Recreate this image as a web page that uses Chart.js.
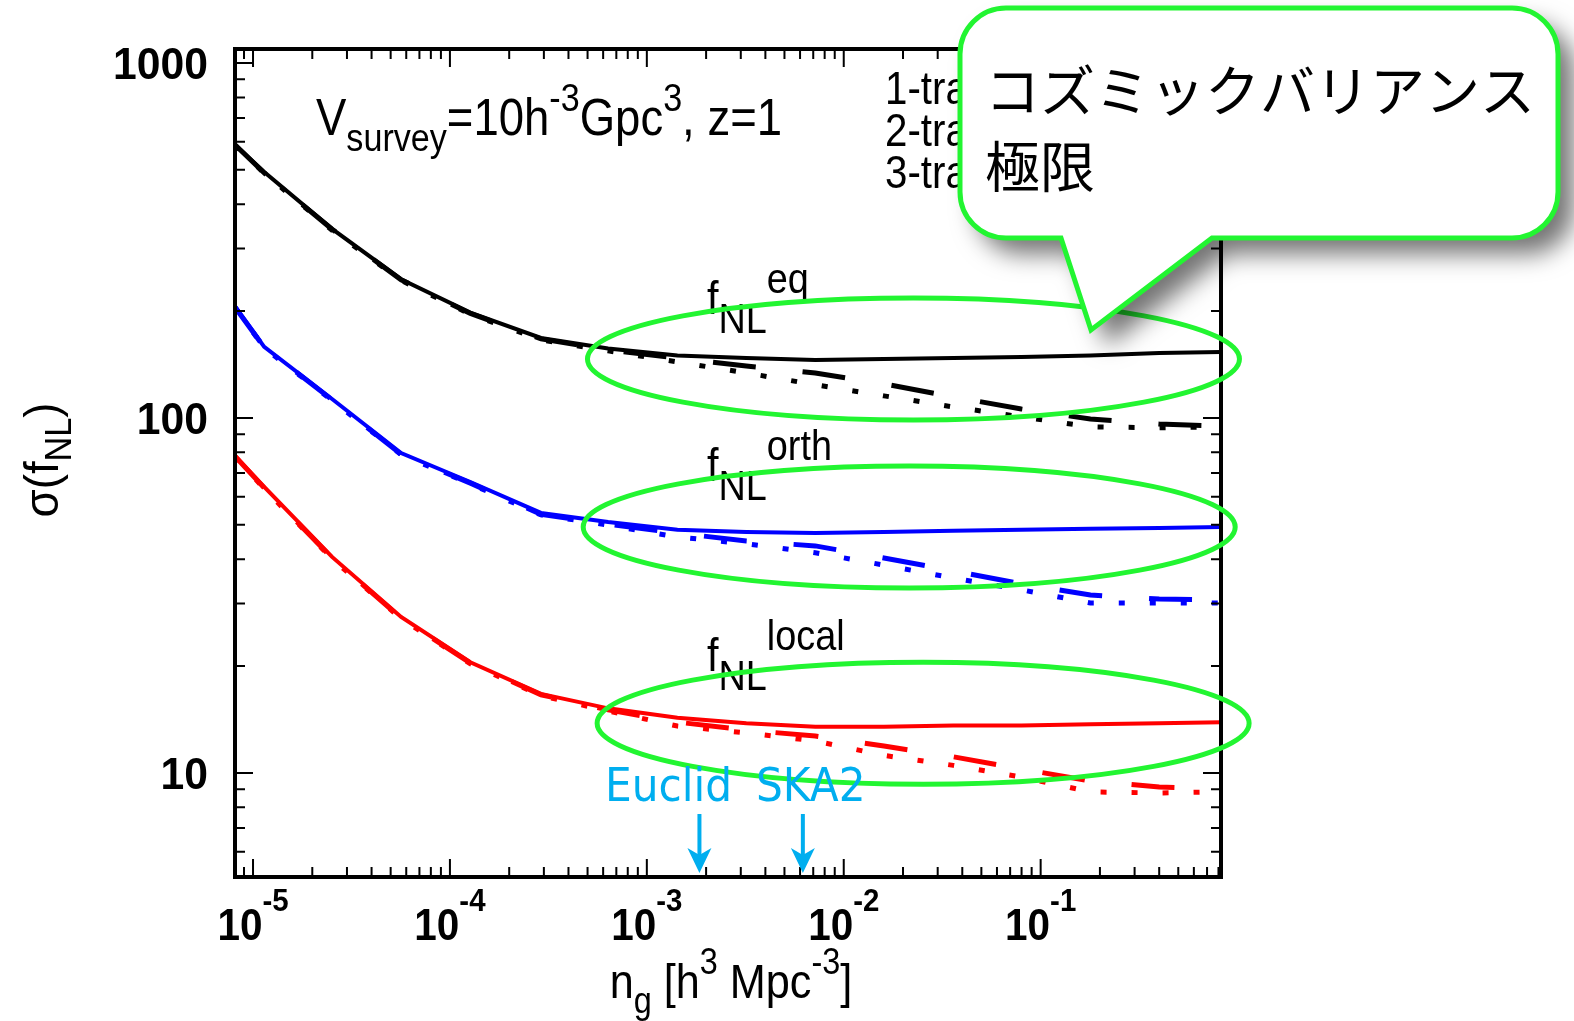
<!DOCTYPE html>
<html>
<head>
<meta charset="utf-8">
<script src="https://cdn.jsdelivr.net/npm/chart.js@4.4.1/dist/chart.umd.min.js"></script>
<style>
  html, body { margin: 0; padding: 0; background: #fff; }
  #wrap { width: 1574px; height: 1021px; }
</style>
</head>
<body>
<div id="wrap"><canvas id="fnlChart" width="1574" height="1021"></canvas></div>
<script>
// galaxy number density grid, n_g [h^3 Mpc^-3]
var ngGrid = [8.1e-6, 1.14e-5, 2.52e-5, 5.65e-5, 1.27e-4, 2.9e-4, 6.36e-4, 1.43e-3,
              3.2e-3, 7.17e-3, 1.6e-2, 3.6e-2, 7.98e-2, 0.179, 0.40, 0.824];

// sigma(f_NL^eq) for 1, 2, 3 tracers
var eq1 = [588, 493, 341, 246, 198, 168, 157, 150, 147.5, 145.6, 146.6, 147.5, 148.6, 150, 152.5, 153.5];
var eq2 = [588, 490, 340, 245, 197, 167, 155.4, 147.5, 140, 133.9, 124.7, 114.6, 106, 99.3, 96.1, 94.9];
var eq3 = [586, 489, 338, 244, 196, 166, 154.5, 143.8, 133.9, 124, 115.4, 107.4, 100.7, 94.4, 93.8, 94.4];

// sigma(f_NL^orth)
var orth1 = [206, 158.5, 113.1, 79.6, 66.0, 54.0, 50.9, 48.4, 47.7, 47.4, 47.7, 48.1, 48.4, 48.7, 49.0, 49.3];
var orth2 = [205, 158, 112.5, 79, 65.5, 53.5, 50.2, 47.4, 45.0, 43.6, 40.3, 37.1, 34.1, 31.7, 30.9, 30.7];
var orth3 = [205, 157.5, 112, 78.8, 65.2, 53.3, 49.9, 46.2, 44.2, 41.7, 38.5, 35.4, 32.8, 30.1, 30.1, 30.1];

// sigma(f_NL^local)
var local1 = [78.2, 63.9, 40.6, 27.5, 20.5, 16.7, 15.2, 14.3, 13.8, 13.5, 13.5, 13.6, 13.6, 13.7, 13.8, 13.9];
var local2 = [78, 63.5, 40.3, 27.3, 20.4, 16.6, 15.05, 13.9, 13.2, 12.7, 11.9, 11.1, 10.26, 9.49, 9.13, 9.02];
var local3 = [77.8, 63.2, 40.1, 27.2, 20.3, 16.5, 14.95, 13.55, 12.96, 12.3, 11.2, 10.5, 9.74, 8.84, 8.78, 8.84];

var xTickPowers = [-5, -4, -3, -2, -1];
var yTickValues = [10, 100, 1000];
var legendLabels = ['1-tracer', '2-tracer', '3-tracer'];

// surveys marked with arrows
var surveyNames = ['Euclid', 'SKA2'];
var surveyNg = [1.85e-3, 6.2e-3];

// cosmic variance limit ovals (centre n_g, centre sigma)
var ovalNg = [0.0226, 0.0215, 0.0253];
var ovalSigma = [146.6, 49.3, 13.8];

var SANS = "'Liberation Sans', Arial, sans-serif";
var GREEN = '#22f531';

function line(vals, color, kind) {
    var ds = {
        data: ngGrid.map(function (n, i) { return { x: n, y: vals[i] }; }),
        showLine: true,
        borderColor: color,
        borderWidth: 4,
        pointRadius: 0,
        fill: false,
        tension: 0,
        borderCapStyle: 'butt'
    };
    if (kind === 2) { ds.borderDash = [43, 47]; ds.borderWidth = 5; }
    if (kind === 3) { ds.borderDash = [6, 25]; ds.borderWidth = 5; }
    return ds;
}

// draws text made of pieces (sub/superscripts), k squeezes it horizontally
function rich(ctx, parts, x, y, align, k) {
    k = k || 1;
    var total = 0;
    parts.forEach(function (p) {
        ctx.font = (p.w || '') + ' ' + p.s + 'px ' + (p.f || SANS);
        p.width = ctx.measureText(p.t).width * k;
        total += p.width;
    });
    var cx = x;
    if (align === 'center') cx = x - total / 2;
    if (align === 'right') cx = x - total;
    ctx.textAlign = 'left';
    ctx.textBaseline = 'alphabetic';
    parts.forEach(function (p) {
        ctx.font = (p.w || '') + ' ' + p.s + 'px ' + (p.f || SANS);
        ctx.save();
        ctx.translate(cx, y + (p.dy || 0));
        ctx.scale(k, 1);
        ctx.fillText(p.t, 0, 0);
        ctx.restore();
        cx += p.width;
    });
}

var decor = {
    id: 'decor',
    afterDatasetsDraw: function (chart) {
        var ctx = chart.ctx;
        var a = chart.chartArea;
        var xs = chart.scales.x, ys = chart.scales.y;
        ctx.save();
        ctx.fillStyle = '#000';
        ctx.strokeStyle = '#000';

        // ticks on all four sides
        ctx.lineWidth = 2;
        ctx.beginPath();
        for (var p = -6; p <= 0; p++) {
            for (var k = 1; k <= 9; k++) {
                var v = k * Math.pow(10, p);
                if (v < xs.min || v > xs.max) continue;
                var px = xs.getPixelForValue(v);
                var len = k === 1 ? 18 : 10;
                ctx.moveTo(px, a.bottom); ctx.lineTo(px, a.bottom - len);
                ctx.moveTo(px, a.top); ctx.lineTo(px, a.top + len);
            }
        }
        for (var q = 0; q <= 3; q++) {
            for (var m = 1; m <= 9; m++) {
                var w = m * Math.pow(10, q);
                if (w < ys.min || w > ys.max) continue;
                var py = ys.getPixelForValue(w);
                var l2 = m === 1 ? 18 : 10;
                ctx.moveTo(a.left, py); ctx.lineTo(a.left + l2, py);
                ctx.moveTo(a.right, py); ctx.lineTo(a.right - l2, py);
            }
        }
        ctx.stroke();

        // frame
        ctx.lineWidth = 4;
        ctx.strokeRect(a.left, a.top, a.right - a.left, a.bottom - a.top);

        // tick labels
        yTickValues.forEach(function (v) {
            rich(ctx, [{ t: String(v), s: 44, w: 'bold' }], 208, ys.getPixelForValue(v) + 16, 'right', 0.97);
        });
        xTickPowers.forEach(function (pw) {
            rich(ctx, [{ t: '10', s: 44, w: 'bold' }, { t: String(pw), s: 32, w: 'bold', dy: -29 }],
                 xs.getPixelForValue(Math.pow(10, pw)), 940, 'center', 0.92);
        });

        // axis titles
        rich(ctx, [{ t: 'n', s: 48 }, { t: 'g', s: 36, dy: 15 }, { t: ' [h', s: 48 },
                   { t: '3', s: 36, dy: -24 }, { t: ' Mpc', s: 48 }, { t: '-3', s: 36, dy: -24 },
                   { t: ']', s: 48 }], 731, 998, 'center', 0.9);
        ctx.save();
        ctx.translate(58, 460);
        ctx.rotate(-Math.PI / 2);
        rich(ctx, [{ t: '\u03c3(f', s: 48 }, { t: 'NL', s: 36, dy: 13 }, { t: ')', s: 48 }], 0, 0, 'center', 0.95);
        ctx.restore();

        // survey annotation
        rich(ctx, [{ t: 'V', s: 52 }, { t: 'survey', s: 39, dy: 16 }, { t: '=10h', s: 52 },
                   { t: '-3', s: 39, dy: -24 }, { t: 'Gpc', s: 52 }, { t: '3', s: 39, dy: -24 },
                   { t: ', z=1', s: 52 }], 316, 135, 'left', 0.875);

        // legend text (mostly hidden by the callout)
        legendLabels.forEach(function (t, i) {
            rich(ctx, [{ t: t, s: 46 }], 885, 104 + i * 42, 'left', 0.875);
        });

        // f_NL labels
        var shapes = ['eq', 'orth', 'local'];
        var base = [314, 481, 671];
        shapes.forEach(function (s, i) {
            rich(ctx, [{ t: 'f', s: 46 }, { t: 'NL', s: 42, dy: 19 }, { t: s, s: 42, dy: -21 }],
                 707, base[i], 'left', 0.9);
        });

        // green ovals
        ctx.strokeStyle = GREEN;
        ctx.lineWidth = 5;
        ovalNg.forEach(function (n, i) {
            ctx.beginPath();
            ctx.ellipse(xs.getPixelForValue(n), ys.getPixelForValue(ovalSigma[i]), 326, 61, 0, 0, Math.PI * 2);
            ctx.stroke();
        });

        // survey arrows
        var cyan = '#00aeef';
        ctx.fillStyle = cyan;
        ctx.strokeStyle = cyan;
        var cf = "'DejaVu Sans Condensed', 'DejaVu Sans'";
        rich(ctx, [{ t: surveyNames[0], s: 47, f: cf }], 605, 801, 'left');
        rich(ctx, [{ t: surveyNames[1], s: 47, f: cf }], 756, 801, 'left');
        surveyNg.forEach(function (n) {
            var ax = xs.getPixelForValue(n);
            ctx.lineWidth = 4;
            ctx.beginPath();
            ctx.moveTo(ax, 814); ctx.lineTo(ax, 860);
            ctx.stroke();
            ctx.beginPath();
            ctx.moveTo(ax - 12, 848); ctx.lineTo(ax, 873); ctx.lineTo(ax + 12, 848);
            ctx.lineTo(ax, 855); ctx.closePath();
            ctx.fill();
        });
        ctx.restore();
    },
    afterDraw: function (chart) {
        var ctx = chart.ctx;
        ctx.save();
        var L = 960, T = 8, R = 1558, B = 238, r = 46;
        ctx.beginPath();
        ctx.moveTo(L + r, T);
        ctx.lineTo(R - r, T);
        ctx.arcTo(R, T, R, T + r, r);
        ctx.lineTo(R, B - r);
        ctx.arcTo(R, B, R - r, B, r);
        ctx.lineTo(1212, B);
        ctx.lineTo(1091, 330);
        ctx.lineTo(1061, B);
        ctx.lineTo(L + r, B);
        ctx.arcTo(L, B, L, B - r, r);
        ctx.lineTo(L, T + r);
        ctx.arcTo(L, T, L + r, T, r);
        ctx.closePath();
        ctx.shadowColor = 'rgba(0,0,0,0.55)';
        ctx.shadowBlur = 24;
        ctx.shadowOffsetX = 16;
        ctx.shadowOffsetY = 16;
        ctx.fillStyle = '#fff';
        ctx.fill();
        ctx.shadowColor = 'transparent';
        ctx.lineWidth = 5;
        ctx.strokeStyle = GREEN;
        ctx.stroke();
        ctx.fillStyle = '#000';
        ctx.font = "55px 'Noto Sans CJK JP'";
        ctx.textAlign = 'left';
        ctx.textBaseline = 'alphabetic';
        ctx.fillText('コズミックバリアンス', 985, 111);
        ctx.fillText('極限', 985, 187);
        ctx.restore();
    }
};

document.addEventListener('DOMContentLoaded', function () {
    var ctx = document.getElementById('fnlChart').getContext('2d');
    var fnlChart = new Chart(ctx, {
        type: 'scatter',
        data: {
            datasets: [
                line(eq1, '#000000', 1), line(eq2, '#000000', 2), line(eq3, '#000000', 3),
                line(orth1, '#0000ff', 1), line(orth2, '#0000ff', 2), line(orth3, '#0000ff', 3),
                line(local1, '#ff0000', 1), line(local2, '#ff0000', 2), line(local3, '#ff0000', 3)
            ]
        },
        options: {
            responsive: false,
            animation: false,
            devicePixelRatio: 1,
            layout: { padding: { left: 235, top: 49, right: 353, bottom: 144 } },
            plugins: { legend: { display: false }, tooltip: { enabled: false } },
            scales: {
                x: { type: 'logarithmic', min: 8.1e-6, max: 0.824, display: false },
                y: { type: 'logarithmic', min: 5.09, max: 1095, display: false }
            }
        },
        plugins: [decor]
    });
});
</script>
</body>
</html>
